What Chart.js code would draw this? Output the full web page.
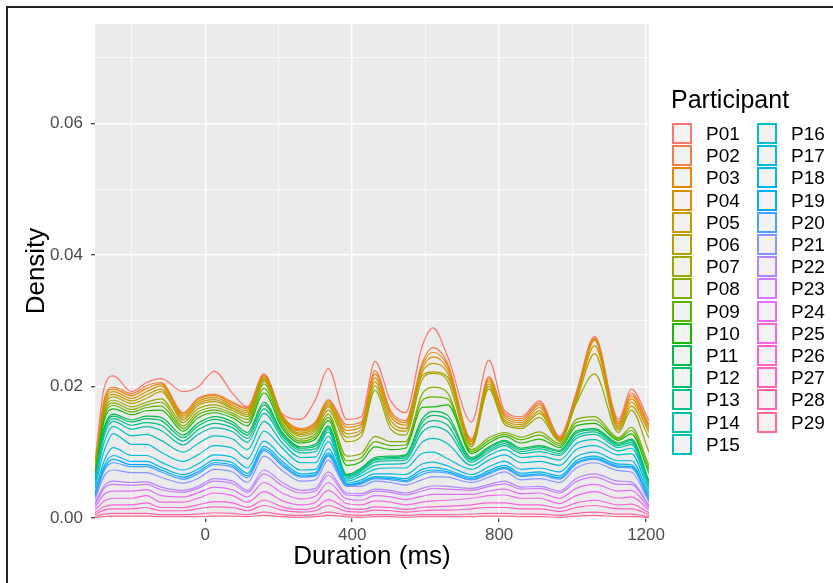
<!DOCTYPE html>
<html>
<head>
<meta charset="utf-8">
<script src="https://cdn.jsdelivr.net/npm/chart.js@4.4.1/dist/chart.umd.min.js"></script>
<style>
  html, body { margin: 0; padding: 0; background: #fff; }
  #wrap { position: relative; width: 833px; height: 583px; overflow: hidden; font-family: "Liberation Sans", Arial, sans-serif; }
  #chart { position: absolute; left: 0; top: 0; }
  #frame { position: absolute; left: 6px; top: 6px; width: 900px; height: 700px; border-left: 2px solid #222; border-top: 2px solid #222; pointer-events: none; }
  #legend-title { position: absolute; left: 671px; top: 84px; font-size: 25px; line-height: 30px; color: #000; }
  .key { position: absolute; box-sizing: border-box; width: 20px; height: 21px; background: #f2f2f2; }
  .key-label { position: absolute; font-size: 19px; line-height: 22px; color: #000; }
</style>
</head>
<body>
<div id="wrap">
  <canvas id="chart" width="833" height="583"></canvas>
  <div id="legend-title">Participant</div>
  <div id="legend"></div>
  <div id="frame"></div>
</div>
<script>
// sample positions along the duration axis (ms)
const durations = [-300, -275, -250, -200, -160, -120, -60, -20, 25, 75, 115, 160, 210, 260, 300, 335, 385, 425, 462, 505,
  545, 590, 620, 660, 725, 772, 815, 860, 910, 965, 1010, 1060, 1125, 1160, 1208];

const xTicks = [-200, 0, 200, 400, 600, 800, 1000, 1200];
const yTicks = [0, 0.01, 0.02, 0.03, 0.04, 0.05, 0.06, 0.07];

const participants = ["P01", "P02", "P03", "P04", "P05", "P06", "P07", "P08", "P09", "P10",
  "P11", "P12", "P13", "P14", "P15", "P16", "P17", "P18", "P19", "P20",
  "P21", "P22", "P23", "P24", "P25", "P26", "P27", "P28", "P29"];

// density of each participant, in thousandths (stacked in the plot)
const p01 = [0.5, 1.8, 1.7, 0.3, 0.5, 0.6, 3.2, 1.7, 3.5, 1.3, 0.1, 0.1, 0.2, 1.4, 3.4, 4.7, 0.8, 0.8, 1.4, 1.5, 1.2, 2.5, 3.0, 1.0, 2.6, 2.5, 0.4, 0.3, 0.3, 0.2, 0.2, 0.2, 0.4, 0.6, 0.6];
const p02 = [0.1, 0.3, 0.3, 0.3, 0.4, 0.2, 0.2, 0.2, 0.2, 0.2, 0.2, 0.2, 0.1, 0.2, 0.2, 0.2, 0.4, 0.3, 0.5, 0.4, 0.3, 0.4, 0.7, 0.4, 0.2, 0.3, 0.3, 0.3, 0.3, 0.1, 0.3, 0.2, 0.3, 0.4, 0.3];
const p03 = [0.2, 0.3, 0.4, 0.4, 0.5, 0.3, 0.3, 0.3, 0.3, 0.3, 0.3, 0.2, 0.2, 0.2, 0.3, 0.3, 0.5, 0.4, 0.6, 0.5, 0.4, 0.5, 0.7, 0.5, 0.2, 0.4, 0.3, 0.3, 0.4, 0.1, 0.3, 0.2, 0.3, 0.5, 0.4];
const p04 = [0.2, 0.4, 0.4, 0.4, 0.5, 0.5, 0.3, 0.3, 0.3, 0.3, 0.3, 0.2, 0.2, 0.3, 0.3, 0.3, 0.5, 0.5, 0.6, 0.6, 0.5, 0.5, 1.0, 0.6, 0.3, 0.4, 0.4, 0.3, 0.5, 0.1, 0.3, 0.8, 0.3, 0.5, 0.5];
const p05 = [0.1, 0.4, 0.4, 0.4, 0.5, 0.4, 0.3, 0.3, 0.3, 0.2, 0.3, 0.2, 0.1, 0.2, 0.3, 0.3, 0.5, 0.4, 0.6, 0.6, 0.4, 0.5, 1.3, 0.6, 0.2, 0.4, 0.3, 0.3, 0.4, 0.1, 0.3, 1.2, 0.3, 0.6, 0.8];
const p06 = [0.2, 0.4, 0.5, 0.5, 0.6, 1.1, 0.4, 0.5, 0.5, 0.3, 0.3, 0.2, 0.2, 0.3, 0.3, 0.5, 0.7, 0.6, 0.7, 0.7, 0.6, 0.6, 0.2, 0.6, 0.3, 0.4, 0.4, 0.3, 0.6, 0.2, 0.3, 3.1, 0.4, 0.6, 2.2];
const p07 = [0.3, 0.4, 0.4, 0.4, 0.4, 0.5, 0.5, 0.5, 0.4, 0.4, 0.4, 0.4, 0.4, 0.4, 0.4, 0.6, 2.2, 2.6, 7.0, 1.9, 1.0, 2.2, 2.1, 1.8, 0.4, 7.4, 1.2, 1.3, 2.2, 0.3, 2.4, 6.5, 0.8, 2.6, 2.0];
const p08 = [0.2, 0.5, 0.4, 0.4, 0.4, 0.6, 0.4, 0.4, 0.4, 0.3, 0.5, 0.7, 0.4, 0.3, 0.4, 0.5, 0.7, 0.6, 0.8, 0.6, 0.5, 1.0, 1.5, 0.9, 0.3, 0.4, 0.3, 0.4, 0.5, 0.3, 0.5, 0.5, 0.2, 0.5, 0.6];
const p09 = [0.2, 0.5, 0.5, 0.4, 0.5, 0.6, 0.4, 0.5, 0.4, 0.4, 0.5, 0.7, 0.4, 0.3, 0.4, 0.5, 0.7, 0.6, 0.8, 0.6, 0.5, 1.0, 1.5, 0.9, 0.3, 0.4, 0.3, 0.5, 0.6, 0.3, 0.5, 0.5, 0.2, 0.5, 0.6];
const p10 = [0.5, 1.0, 0.8, 0.8, 0.8, 1.1, 0.6, 0.8, 0.6, 0.6, 1.0, 1.4, 0.6, 0.6, 0.8, 0.8, 1.4, 1.0, 1.6, 1.0, 1.0, 1.8, 0.7, 1.6, 0.6, 0.6, 0.6, 0.8, 1.0, 0.4, 0.8, 0.8, 0.4, 0.8, 1.2];
const p11 = [0.1, 0.3, 0.3, 0.3, 0.4, 0.5, 0.4, 0.4, 0.4, 0.4, 0.4, 0.4, 0.2, 0.2, 0.3, 0.2, 0.1, 0.1, 0.2, 0.2, 0.2, 0.5, 0.6, 0.6, 0.2, 0.2, 0.2, 0.2, 0.2, 0.2, 0.3, 0.2, 0.2, 0.2, 0.2];
const p12 = [0.2, 0.5, 0.4, 0.5, 0.6, 0.7, 0.5, 0.6, 0.6, 0.5, 0.5, 0.6, 0.3, 0.3, 0.4, 0.3, 0.1, 0.2, 0.2, 0.2, 0.3, 0.7, 0.8, 0.9, 0.2, 0.3, 0.3, 0.3, 0.3, 0.3, 0.4, 0.3, 0.2, 0.3, 0.2];
const p13 = [0.2, 0.5, 0.4, 0.6, 0.6, 0.8, 0.6, 0.7, 0.7, 0.6, 0.6, 0.7, 0.4, 0.4, 0.4, 0.4, 0.2, 0.2, 0.3, 0.3, 0.3, 0.8, 0.9, 1.0, 0.3, 0.3, 0.3, 0.3, 0.4, 0.3, 0.4, 0.4, 0.3, 0.3, 0.3];
const p14 = [0.4, 1.0, 0.8, 1.0, 1.2, 1.5, 1.1, 1.4, 1.2, 1.1, 1.1, 1.2, 0.7, 0.7, 0.8, 0.7, 0.3, 0.3, 0.5, 0.5, 0.5, 1.5, 1.8, 1.8, 0.5, 0.5, 0.6, 0.6, 0.7, 0.7, 0.8, 0.8, 0.5, 0.6, 0.5];
const p15 = [0.6, 1.3, 1.1, 1.3, 1.5, 1.8, 1.4, 1.7, 1.5, 1.4, 1.4, 1.5, 0.8, 0.8, 0.9, 0.8, 0.3, 0.4, 0.6, 0.6, 0.7, 1.7, 2.1, 2.3, 0.6, 0.7, 0.8, 0.8, 0.8, 0.8, 0.9, 0.9, 0.6, 0.8, 0.6];
const p16 = [0.7, 1.5, 2.1, 1.7, 1.7, 1.5, 1.3, 1.4, 1.4, 1.4, 1.4, 1.5, 1.3, 1.1, 1.0, 1.1, 0.3, 0.6, 0.7, 0.9, 1.0, 1.6, 1.5, 1.1, 0.8, 1.0, 1.0, 1.0, 1.0, 1.0, 1.1, 1.0, 0.9, 1.1, 0.5];
const p17 = [0.3, 0.8, 1.2, 0.9, 0.9, 0.8, 0.7, 0.8, 0.8, 0.8, 0.8, 0.8, 0.7, 0.6, 0.5, 0.6, 0.2, 0.3, 0.4, 0.5, 0.6, 0.8, 0.8, 0.6, 0.4, 0.6, 0.6, 0.6, 0.6, 0.6, 0.6, 0.6, 0.5, 0.6, 0.3];
const p18 = [0.2, 0.4, 0.6, 0.5, 0.5, 0.4, 0.4, 0.4, 0.4, 0.4, 0.4, 0.4, 0.4, 0.3, 0.3, 0.3, 0.1, 0.2, 0.2, 0.2, 0.3, 0.4, 0.4, 0.3, 0.2, 0.3, 0.3, 0.3, 0.3, 0.3, 0.3, 0.3, 0.3, 0.3, 0.2];
const p19 = [0.1, 0.3, 0.5, 0.3, 0.3, 0.3, 0.3, 0.3, 0.3, 0.3, 0.3, 0.3, 0.3, 0.2, 0.2, 0.2, 0.1, 0.1, 0.1, 0.2, 0.2, 0.4, 0.3, 0.2, 0.2, 0.2, 0.2, 0.2, 0.2, 0.2, 0.2, 0.2, 0.2, 0.2, 0.1];
const p20 = [0.4, 0.8, 1.1, 0.9, 0.9, 0.8, 0.6, 0.7, 0.7, 0.7, 0.7, 0.8, 0.7, 0.6, 0.6, 0.6, 0.1, 0.4, 0.4, 0.4, 0.5, 0.8, 0.7, 0.6, 0.4, 0.5, 0.5, 0.5, 0.5, 0.5, 0.6, 0.5, 0.5, 0.6, 0.3];
const p21 = [0.6, 1.5, 1.7, 1.5, 1.4, 1.5, 1.1, 1.2, 1.4, 1.4, 1.2, 2.1, 1.8, 1.4, 1.3, 1.8, 1.0, 1.1, 1.2, 1.2, 1.2, 1.3, 1.4, 1.4, 0.9, 1.1, 1.4, 1.1, 1.2, 1.3, 1.6, 1.7, 1.6, 1.5, 0.5];
const p22 = [0.2, 0.4, 0.5, 0.4, 0.4, 0.4, 0.3, 0.3, 0.4, 0.4, 0.3, 0.6, 0.5, 0.4, 0.4, 0.5, 0.3, 0.3, 0.3, 0.3, 0.3, 0.4, 0.4, 0.4, 0.3, 0.3, 0.4, 0.3, 0.3, 0.3, 0.5, 0.5, 0.5, 0.4, 0.1];
const p23 = [0.4, 0.9, 1.0, 0.9, 0.8, 0.9, 0.7, 0.7, 0.9, 0.9, 0.7, 1.3, 1.1, 0.9, 0.8, 1.1, 0.6, 0.7, 0.7, 0.7, 0.7, 0.8, 0.9, 0.8, 0.6, 0.7, 0.8, 0.7, 0.7, 0.8, 1.0, 1.1, 1.0, 0.9, 0.3];
const p24 = [0.4, 1.0, 1.1, 1.1, 0.9, 1.0, 0.8, 0.8, 0.9, 0.9, 0.8, 1.4, 1.2, 0.9, 0.9, 1.2, 0.7, 0.7, 0.8, 0.8, 0.8, 0.9, 1.0, 0.9, 0.6, 0.7, 0.9, 0.7, 0.8, 0.8, 1.1, 1.1, 1.1, 1.0, 0.3];
const p25 = [0.4, 0.9, 1.0, 1.0, 1.1, 0.8, 0.8, 1.0, 1.3, 1.1, 0.8, 1.3, 0.9, 0.7, 0.8, 1.4, 0.7, 0.7, 0.9, 0.8, 0.7, 0.8, 0.9, 0.9, 1.0, 1.1, 1.2, 1.0, 1.0, 0.7, 1.1, 1.3, 1.0, 1.1, 0.4];
const p26 = [0.3, 0.5, 0.6, 0.6, 0.7, 0.5, 0.5, 0.6, 0.8, 0.7, 0.5, 0.8, 0.5, 0.4, 0.5, 0.9, 0.5, 0.4, 0.5, 0.5, 0.4, 0.5, 0.5, 0.6, 0.6, 0.7, 0.7, 0.6, 0.6, 0.5, 0.7, 0.8, 0.6, 0.7, 0.3];
const p27 = [0.3, 0.6, 0.7, 0.7, 0.9, 0.6, 0.6, 0.8, 0.9, 0.9, 0.6, 1.0, 0.7, 0.5, 0.6, 1.0, 0.5, 0.5, 0.7, 0.6, 0.5, 0.6, 0.7, 0.7, 0.8, 0.9, 0.9, 0.8, 0.8, 0.6, 0.9, 1.0, 0.8, 0.8, 0.3];
const p28 = [0.1, 0.4, 0.4, 0.4, 0.4, 0.3, 0.3, 0.4, 0.5, 0.4, 0.3, 0.5, 0.3, 0.3, 0.3, 0.5, 0.3, 0.3, 0.3, 0.3, 0.3, 0.3, 0.3, 0.3, 0.4, 0.4, 0.4, 0.4, 0.4, 0.3, 0.4, 0.5, 0.4, 0.4, 0.1];
const p29 = [0.1, 0.2, 0.3, 0.3, 0.3, 0.2, 0.2, 0.2, 0.3, 0.3, 0.2, 0.4, 0.2, 0.1, 0.2, 0.4, 0.2, 0.1, 0.2, 0.2, 0.1, 0.2, 0.2, 0.2, 0.2, 0.3, 0.3, 0.2, 0.2, 0.1, 0.3, 0.4, 0.2, 0.2, 0.1];

const seriesValues = [p01, p02, p03, p04, p05, p06, p07, p08, p09, p10, p11, p12, p13, p14, p15,
  p16, p17, p18, p19, p20, p21, p22, p23, p24, p25, p26, p27, p28, p29];

// ggplot-style hue palette: hcl(h, c = 100, l = 65)
function hcl(h, c, l) {
  const rad = (h * Math.PI) / 180;
  const U = c * Math.cos(rad);
  const V = c * Math.sin(rad);
  const Y = l > 8 ? Math.pow((l + 16) / 116, 3) : l / 903.3;
  const u = U / (13 * l) + 0.19784;
  const v = V / (13 * l) + 0.46834;
  const X = (9 * Y * u) / (4 * v);
  const Z = (Y * (12 - 3 * u - 20 * v)) / (4 * v);
  const lin = [
    3.240479 * X - 1.53715 * Y - 0.498535 * Z,
    -0.969256 * X + 1.875992 * Y + 0.041556 * Z,
    0.055648 * X - 0.204043 * Y + 1.057311 * Z,
  ];
  const hex = lin.map((t) => {
    t = Math.min(1, Math.max(0, t));
    const s = t <= 0.0031308 ? 12.92 * t : 1.055 * Math.pow(t, 1 / 2.4) - 0.055;
    return Math.round(s * 255).toString(16).padStart(2, "0");
  });
  return "#" + hex.join("");
}

const colors = participants.map((_, i) => hcl((15 + (360 * i) / participants.length) % 360, 100, 65));

// P29 goes first so it sits at the bottom of the stack and P01 ends on top
const datasets = participants
  .map((name, i) => ({
    label: name,
    data: durations.map((d, j) => ({ x: d, y: seriesValues[i][j] / 1000 })),
    borderColor: colors[i],
    backgroundColor: colors[i],
    fill: false,
  }))
  .reverse();

const panelBackground = {
  id: "panelBackground",
  beforeDraw(chart) {
    const { ctx, chartArea } = chart;
    ctx.save();
    ctx.fillStyle = "#ebebeb";
    ctx.fillRect(chartArea.left, chartArea.top, chartArea.right - chartArea.left, chartArea.bottom - chartArea.top);
    ctx.restore();
  },
};

function isMajorX(value) {
  return value % 400 === 0;
}

function isMajorY(value) {
  return Math.round(value * 100) % 2 === 0;
}

const fontFamily = '"Liberation Sans", Arial, sans-serif';

new Chart(document.getElementById("chart"), {
  type: "line",
  data: { datasets },
  options: {
    responsive: false,
    animation: false,
    layout: { padding: { left: 0, top: 24, right: 184, bottom: 0 } },
    plugins: { legend: { display: false }, tooltip: { enabled: false } },
    elements: {
      point: { radius: 0 },
      line: { borderWidth: 1.2, cubicInterpolationMode: "monotone" },
    },
    scales: {
      x: {
        type: "linear",
        min: -300,
        max: 1208,
        afterBuildTicks: (scale) => {
          scale.ticks = xTicks.map((v) => ({ value: v }));
        },
        afterFit: (scale) => {
          scale.height = 65;
        },
        border: { display: false },
        grid: {
          color: "#ffffff",
          lineWidth: (ctx) => (isMajorX(ctx.tick.value) ? 1.4 : 0.7),
          tickLength: 4,
          tickColor: (ctx) => (isMajorX(ctx.tick.value) ? "#333333" : "rgba(0,0,0,0)"),
          tickWidth: 1.2,
        },
        ticks: {
          autoSkip: false,
          maxRotation: 0,
          padding: 3,
          color: "#4d4d4d",
          font: { family: fontFamily, size: 17 },
          callback: (v) => (isMajorX(v) ? String(v) : ""),
        },
        title: {
          display: true,
          text: "Duration (ms)",
          color: "#000",
          font: { family: fontFamily, size: 26 },
          padding: { top: 0, bottom: 11 },
        },
      },
      y: {
        stacked: true,
        min: 0,
        max: 0.0751,
        afterBuildTicks: (scale) => {
          scale.ticks = yTicks.map((v) => ({ value: v }));
        },
        afterFit: (scale) => {
          scale.width = 95;
        },
        border: { display: false },
        grid: {
          color: "#ffffff",
          lineWidth: (ctx) => (isMajorY(ctx.tick.value) ? 1.4 : 0.7),
          tickLength: 4,
          tickColor: (ctx) => (isMajorY(ctx.tick.value) ? "#333333" : "rgba(0,0,0,0)"),
          tickWidth: 1.2,
        },
        ticks: {
          autoSkip: false,
          padding: 8,
          color: "#4d4d4d",
          font: { family: fontFamily, size: 17 },
          callback: (v) => (isMajorY(v) ? v.toFixed(2) : ""),
        },
        title: {
          display: true,
          text: "Density",
          color: "#000",
          font: { family: fontFamily, size: 26 },
          padding: { top: 21, bottom: 0 },
        },
      },
    },
  },
  plugins: [panelBackground],
});

// legend: two columns of outlined keys
const legend = document.getElementById("legend");
participants.forEach((name, i) => {
  const col = i < 15 ? 0 : 1;
  const row = i < 15 ? i : i - 15;
  const top = Math.round(123 + row * 22.2);
  const left = col === 0 ? 672 : 757;

  const key = document.createElement("div");
  key.className = "key";
  key.style.left = left + "px";
  key.style.top = top + "px";
  key.style.border = "2px solid " + colors[i];
  legend.appendChild(key);

  const label = document.createElement("div");
  label.className = "key-label";
  label.style.left = left + 34 + "px";
  label.style.top = top + "px";
  label.textContent = name;
  legend.appendChild(label);
});
</script>
</body>
</html>
